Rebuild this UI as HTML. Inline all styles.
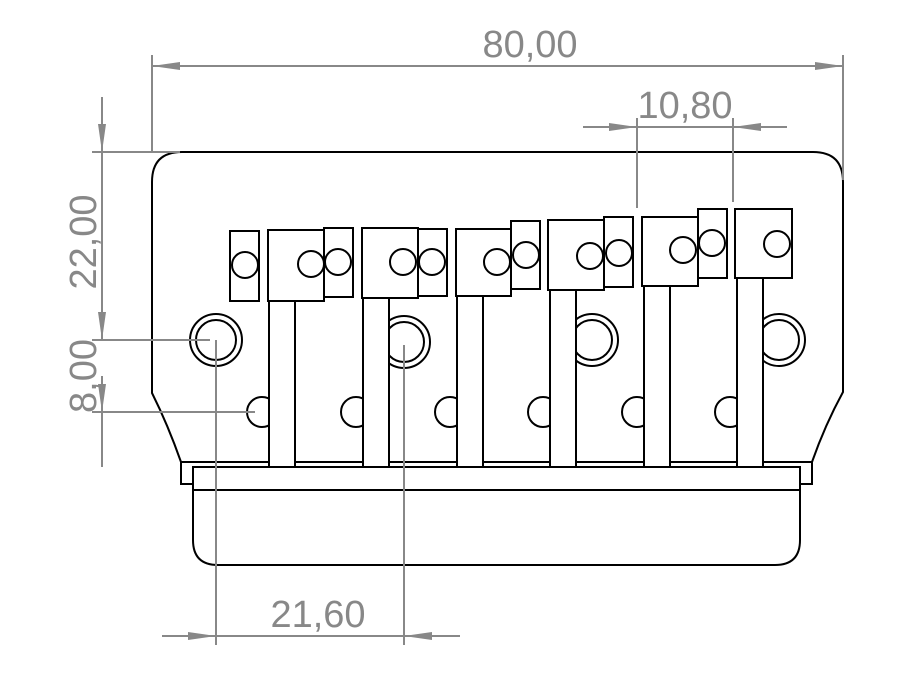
<!DOCTYPE html>
<html><head><style>html,body{margin:0;padding:0;background:#fff}svg{display:block}</style></head><body>
<svg width="924" height="693" viewBox="0 0 924 693" xmlns="http://www.w3.org/2000/svg">
<defs>
<marker id="a" markerWidth="28" markerHeight="10" refX="28" refY="5" orient="auto" markerUnits="userSpaceOnUse"><path d="M0,1 L28,5 L0,9 Z" fill="#888"/></marker>
</defs>
<g fill="#fff" stroke="#000" stroke-width="2">
<path d="M152,182 Q152,152 182,152 L813,152 Q843,152 843,182 L843,392 Q825,425 812,462 L181,462 Q168,425 152,393 Z"/>
<path d="M181,462 L181,484 L193,484 L193,467 M812,462 L812,484 L800,484 L800,467"/>
<path d="M193,467 L800,467 L800,540 Q800,565 775,565 L218,565 Q193,565 193,540 Z"/>
<line x1="181" y1="462" x2="812" y2="462"/>
<line x1="193" y1="490" x2="800" y2="490"/>
<circle cx="216" cy="340" r="26"/><circle cx="216" cy="340" r="20"/>
<circle cx="404" cy="342" r="26"/><circle cx="404" cy="342" r="20"/>
<circle cx="592" cy="340" r="26"/><circle cx="592" cy="340" r="20"/>
<circle cx="779" cy="340" r="26"/><circle cx="779" cy="340" r="20"/>
<circle cx="262" cy="412" r="15"/><circle cx="356" cy="412" r="15"/><circle cx="450" cy="412" r="15"/>
<circle cx="543" cy="412" r="15"/><circle cx="637" cy="412" r="15"/><circle cx="730" cy="412" r="15"/>
<rect x="269" y="298" width="26" height="169"/>
<rect x="363" y="296" width="26" height="171"/>
<rect x="457" y="294" width="26" height="173"/>
<rect x="550" y="288" width="26" height="179"/>
<rect x="644" y="284" width="26" height="183"/>
<rect x="737" y="276" width="26" height="191"/>
<rect x="230" y="231" width="29" height="70"/><circle cx="245" cy="265" r="13"/>
<rect x="268" y="230" width="56" height="71"/><circle cx="311" cy="264" r="13"/>
<rect x="324" y="228" width="29" height="69"/><circle cx="338" cy="262" r="13"/>
<rect x="362" y="228" width="56" height="70"/><circle cx="403" cy="262" r="13"/>
<rect x="418" y="229" width="29" height="67"/><circle cx="432" cy="262" r="13"/>
<rect x="456" y="229" width="55" height="67"/><circle cx="497" cy="262" r="13"/>
<rect x="511" y="221" width="29" height="68"/><circle cx="526" cy="255" r="13"/>
<rect x="548" y="220" width="56" height="70"/><circle cx="590" cy="256" r="13"/>
<rect x="604" y="217" width="29" height="70"/><circle cx="619" cy="253" r="13"/>
<rect x="642" y="217" width="56" height="69"/><circle cx="683" cy="250" r="13"/>
<rect x="698" y="209" width="29" height="69"/><circle cx="712" cy="243" r="13"/>
<rect x="735" y="209" width="57" height="69"/><circle cx="777" cy="244" r="13"/>
</g>
<g stroke="#888" stroke-width="2" fill="none">
<line x1="152" y1="55" x2="152" y2="152"/><line x1="843" y1="55" x2="843" y2="180"/>
<line x1="180" y1="66" x2="152" y2="66" marker-end="url(#a)"/><line x1="500" y1="66" x2="843" y2="66" marker-end="url(#a)"/><line x1="180" y1="66" x2="500" y2="66"/>
<line x1="637" y1="118" x2="637" y2="208"/><line x1="733" y1="118" x2="733" y2="202"/>
<line x1="583" y1="127" x2="637" y2="127" marker-end="url(#a)"/><line x1="787" y1="127" x2="733" y2="127" marker-end="url(#a)"/><line x1="637" y1="127" x2="733" y2="127"/>
<line x1="92" y1="152" x2="180" y2="152"/><line x1="92" y1="340" x2="210" y2="340"/><line x1="92" y1="412" x2="255" y2="412"/>
<line x1="102" y1="97" x2="102" y2="152" marker-end="url(#a)"/>
<line x1="102" y1="240" x2="102" y2="340" marker-end="url(#a)"/>
<line x1="102" y1="240" x2="102" y2="152"/>
<line x1="102" y1="376" x2="102" y2="412" marker-end="url(#a)"/>
<line x1="102" y1="467" x2="102" y2="412"/>
<line x1="216" y1="340" x2="216" y2="645"/><line x1="404" y1="345" x2="404" y2="645"/>
<line x1="162" y1="636" x2="216" y2="636" marker-end="url(#a)"/><line x1="460" y1="636" x2="404" y2="636" marker-end="url(#a)"/><line x1="216" y1="636" x2="404" y2="636"/>
</g>
<g fill="#888" font-family="Liberation Sans, sans-serif" font-size="38" text-anchor="middle">
<text x="530" y="57">80,00</text>
<text x="685" y="118">10,80</text>
<text x="318" y="627">21,60</text>
<text transform="translate(96,242) rotate(-90)">22,00</text>
<text transform="translate(96,376) rotate(-90)">8,00</text>
</g>
</svg>
</body></html>
